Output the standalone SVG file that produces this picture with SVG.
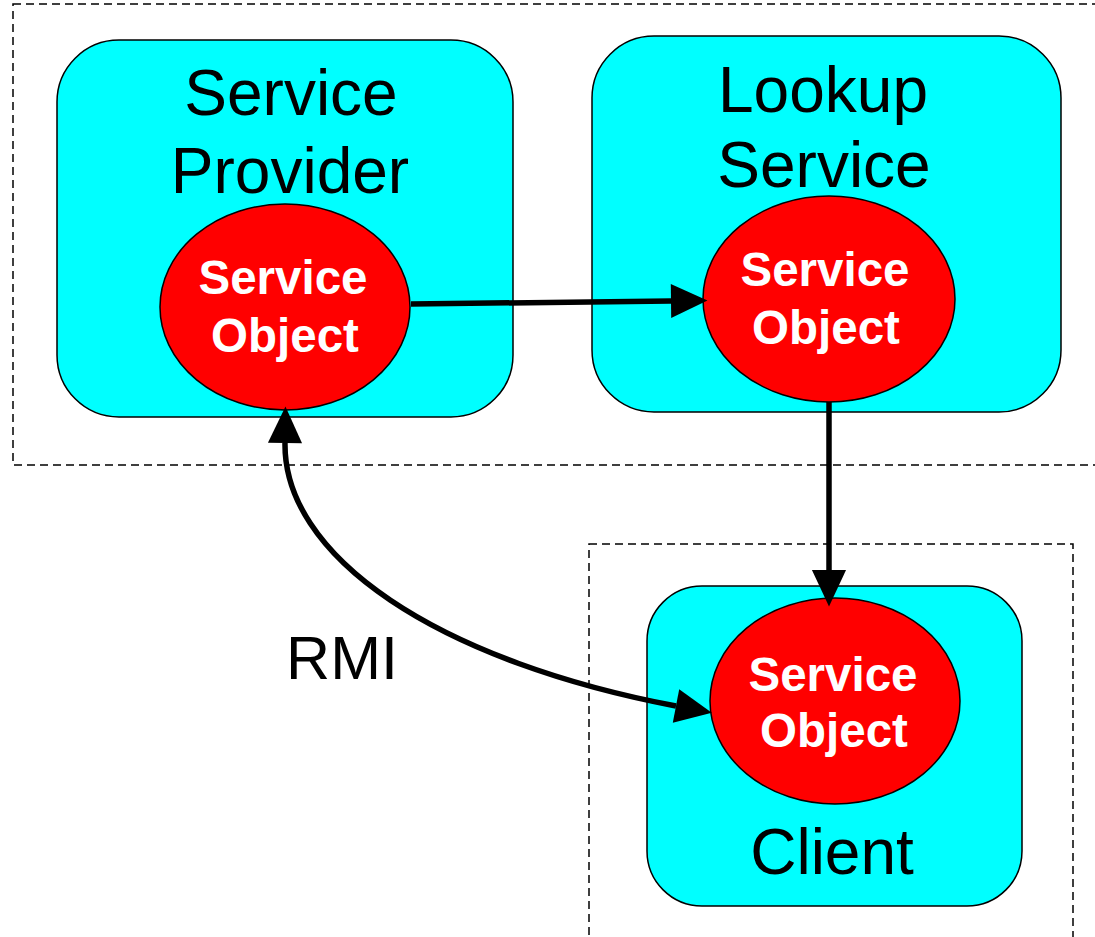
<svg xmlns="http://www.w3.org/2000/svg" width="1095" height="937" viewBox="0 0 1095 937">
<style>
.dash{fill:none;stroke:#000;stroke-width:1.5;stroke-dasharray:8,5}
.box{fill:#00FFFF;stroke:#000;stroke-width:1.5}
.obj{fill:#FF0000;stroke:#000;stroke-width:1.5}
.lbl{font-family:"Liberation Sans",Arial,sans-serif;font-size:64px;fill:#000;text-anchor:middle}
.olbl{font-family:"Liberation Sans",Arial,sans-serif;font-size:47.5px;font-weight:bold;fill:#fff;text-anchor:middle}
.conn{fill:none;stroke:#000;stroke-width:5.5}
</style>
<defs>
<marker id="ah" markerUnits="userSpaceOnUse" markerWidth="40" markerHeight="40" viewBox="0 -16 34 32" refX="0" refY="0" orient="auto-start-reverse" overflow="visible">
<path d="M0,-14.5 L31,0 L0,14.5 z" fill="#000"/>
</marker>
</defs>
<rect class="dash" x="13" y="4" width="1100" height="461"/>
<rect class="dash" x="589" y="544" width="484" height="420"/>
<g id="service-provider">
<rect class="box" x="57" y="40" width="456" height="377" rx="62" ry="62"/>
<text class="lbl" x="291" y="115">Service</text>
<text class="lbl" x="290" y="193">Provider</text>
</g>
<g id="lookup-service">
<rect class="box" x="592" y="36" width="469" height="376" rx="62" ry="62"/>
<text class="lbl" x="823" y="112">Lookup</text>
<text class="lbl" x="824" y="187">Service</text>
</g>
<g id="client">
<rect class="box" x="647" y="586" width="375" height="320" rx="55" ry="55"/>
<text class="lbl" x="832" y="874">Client</text>
</g>
<g id="sp-object">
<ellipse class="obj" cx="285" cy="307" rx="125" ry="103"/>
<text class="olbl" x="283" y="294">Service</text>
<text class="olbl" x="285" y="352">Object</text>
</g>
<g id="ls-object">
<ellipse class="obj" cx="829" cy="299" rx="126" ry="103"/>
<text class="olbl" x="825" y="286">Service</text>
<text class="olbl" x="826" y="344">Object</text>
</g>
<g id="client-object">
<ellipse class="obj" cx="835" cy="701" rx="125" ry="103"/>
<text class="olbl" x="833" y="691">Service</text>
<text class="olbl" x="834" y="747">Object</text>
</g>
<g id="connectors">
<path class="conn" d="M411,304 L671,301" marker-end="url(#ah)"/>
<path class="conn" d="M829,402 L829,570" marker-end="url(#ah)"/>
<path class="conn" d="M285,443 A650,285 0 0 0 676,706" marker-start="url(#ah)" marker-end="url(#ah)"/>
<text class="lbl" x="342" y="679" style="font-size:61px">RMI</text>
</g>
</svg>
